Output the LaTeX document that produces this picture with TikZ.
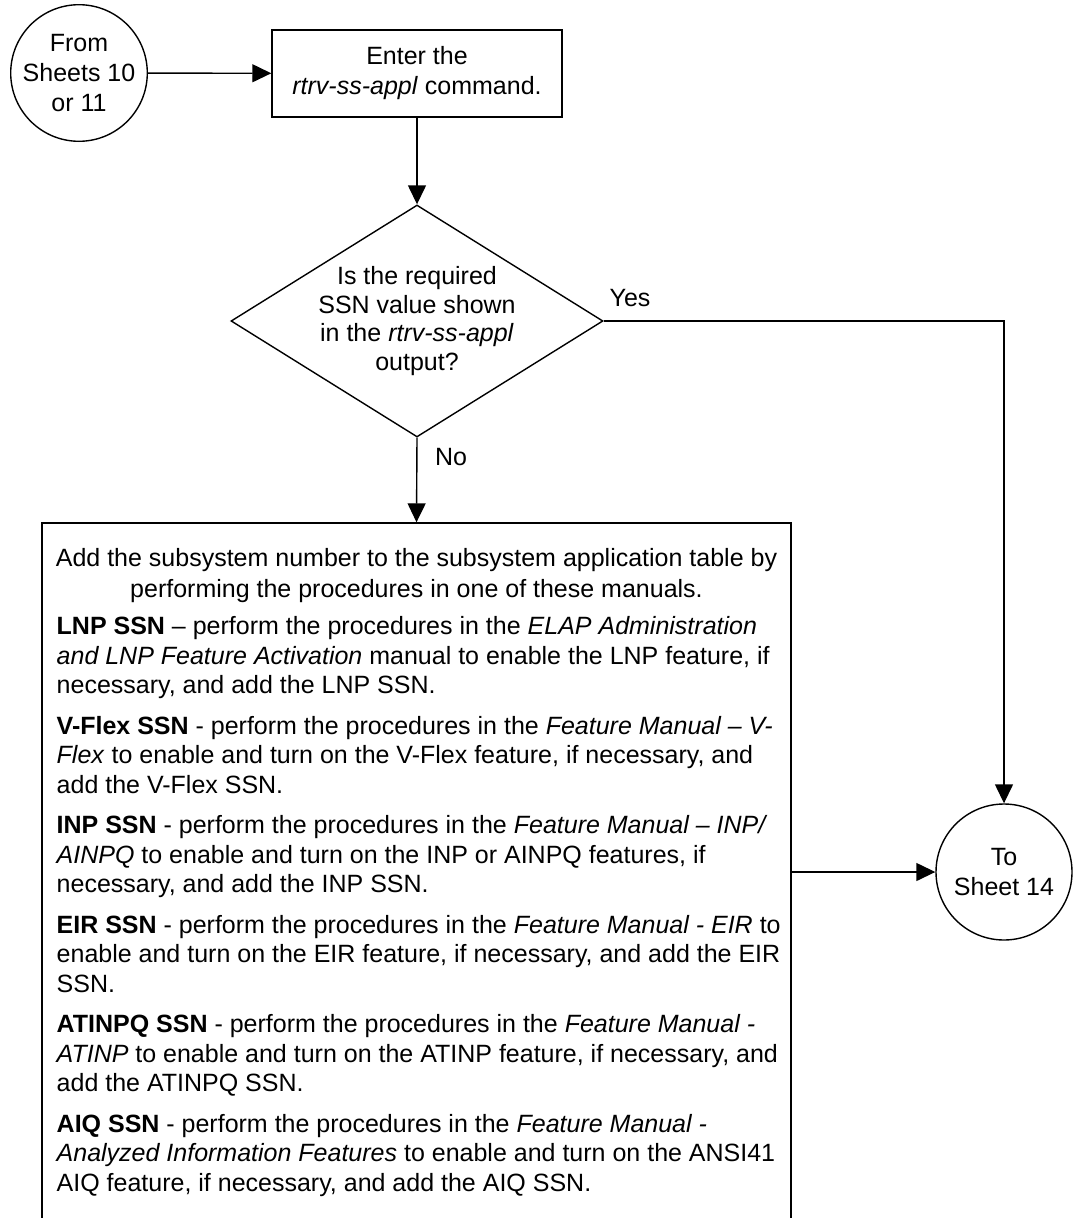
\documentclass[tikz,border=0pt]{standalone}
\usepackage{fontspec}
\setmainfont{Liberation Sans}
\usetikzlibrary{arrows.meta,shapes.geometric}
\begin{document}
\begin{tikzpicture}[x=1pt,y=-1pt,line width=1.4pt,
  term/.style={circle,draw,minimum size=136pt,inner sep=0pt,align=center,font=\fontsize{25}{30}\selectfont},
  procbox/.style={rectangle,draw,minimum width=290pt,minimum height=87pt,inner sep=0pt,align=center,font=\fontsize{25}{30}\selectfont},
  decision/.style={diamond,draw,minimum width=372pt,minimum height=232pt,inner sep=0pt},
  bigbox/.style={rectangle,draw,minimum width=749pt,minimum height=717pt,inner sep=0pt},
  txt/.style={inner sep=0pt,font=\fontsize{25}{29.5}\selectfont},
  arr/.style={draw,-{Triangle[length=19pt,width=18pt]}}]
\useasboundingbox (0,0) rectangle (1080,1218);
\clip (0,0) rectangle (1080,1218);
\fill[white] (0,0) rectangle (1080,1218);

\node[term] (from) at (79,73) {From\\Sheets 10\\or 11};
\node[procbox] (enter) at (417,73.5) {Enter the\\\textit{rtrv-ss-appl} command.};
\node[decision] (dia) at (417,321) {};
\node[txt,align=center,font=\fontsize{25}{28.7}\selectfont] (diatext) at (dia.center) {Is the required\\SSN value shown\\in the \textit{rtrv-ss-appl}\\output?};
\node[bigbox] (add) at (416.5,881.5) {};
\node[term] (to) at (1004,872) {To\\Sheet 14};

\node[txt,align=center,anchor=north,font=\fontsize{25}{30.5}\selectfont] (addhead) at (416.5,548) {Add the subsystem number to the subsystem application table by\\performing the procedures in one of these manuals.};
\node[txt,align=left,anchor=north west] (addbody) at (56,616) {%
\textbf{LNP SSN} – perform the procedures in the \textit{ELAP Administration}\\
\textit{and LNP Feature Activation} manual to enable the LNP feature, if\\
necessary, and add the LNP SSN.\\[11pt]
\textbf{V-Flex SSN} - perform the procedures in the \textit{Feature Manual – V-}\\
\textit{Flex} to enable and turn on the V-Flex feature, if necessary, and\\
add the V-Flex SSN.\\[11pt]
\textbf{INP SSN} - perform the procedures in the \textit{Feature Manual – INP/}\\
\textit{AINPQ} to enable and turn on the INP or AINPQ features, if\\
necessary, and add the INP SSN.\\[11pt]
\textbf{EIR SSN} - perform the procedures in the \textit{Feature Manual - EIR} to\\
enable and turn on the EIR feature, if necessary, and add the EIR\\
SSN.\\[11pt]
\textbf{ATINPQ SSN} - perform the procedures in the \textit{Feature Manual -}\\
\textit{ATINP} to enable and turn on the ATINP feature, if necessary, and\\
add the ATINPQ SSN.\\[11pt]
\textbf{AIQ SSN} - perform the procedures in the \textit{Feature Manual -}\\
\textit{Analyzed Information Features} to enable and turn on the ANSI41\\
AIQ feature, if necessary, and add the AIQ SSN.};

\node[txt] (yes) at (630,298) {Yes};
\node[txt] (no) at (451,457) {No};

\draw[arr] (from) -- (enter);
\draw[arr] (enter) -- (dia.north);
\draw[arr] (dia.east) -| (to.north);
\draw[arr] (dia.south) -- (add.north);
\draw[arr] (to.west -| add.east) -- (to.west);
\end{tikzpicture}
\end{document}
